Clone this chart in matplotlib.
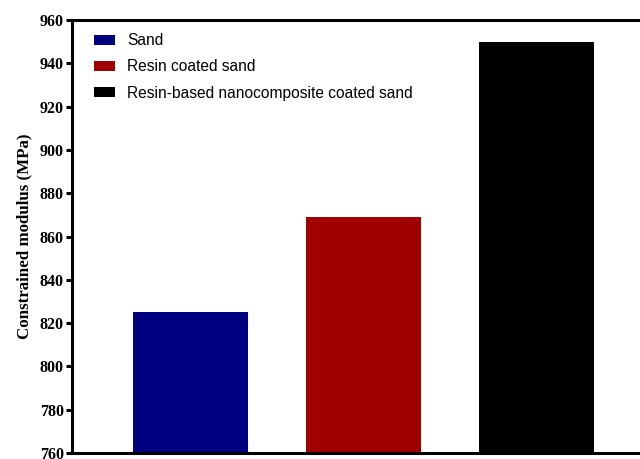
import matplotlib
matplotlib.use("Agg")
import matplotlib.pyplot as plt
import numpy as np

# data
categories = ["Sand", "Resin coated sand", "Resin-based nanocomposite coated sand"]
modulus = [825, 869, 950]
colors = ["#000080", "#a00000", "#000000"]
yticks = [760, 780, 800, 820, 840, 860, 880, 900, 920, 940, 960]

fig = plt.figure(figsize=(6.4, 4.59), dpi=100)
# axes runs past the right edge, like the cropped original
ax = fig.add_axes([0.1125, 0.013, 0.911, 0.943])

x = np.arange(len(categories))
bars = ax.bar(x, [m - 760 for m in modulus], bottom=760, width=0.665,
              color=colors, label=categories)

ax.set_ylim(760, 960)
ax.set_xlim(-0.685, 2.685)
ax.set_yticks(yticks)
ax.set_xticks([])

for s in ax.spines.values():
    s.set_linewidth(2.2)

ax.tick_params(axis="y", direction="out", length=4.5, width=2.2, pad=1.5)
for lbl in ax.get_yticklabels():
    lbl.set_fontfamily("Liberation Serif")
    lbl.set_fontweight("bold")
    lbl.set_fontsize(11.5)

ax.set_ylabel("Constrained modulus (MPa)", fontfamily="Liberation Serif",
              fontweight="bold", fontsize=12.2, labelpad=5)

ax.legend(handles=list(bars), labels=categories, loc="upper left",
          bbox_to_anchor=(0.0377, 0.970), frameon=False,
          prop={"family": "Liberation Sans", "size": 11.2},
          borderpad=0, borderaxespad=0, handlelength=1.35, handleheight=0.58,
          handletextpad=0.77, labelspacing=0.72)

fig.savefig("out.png", dpi=100)
